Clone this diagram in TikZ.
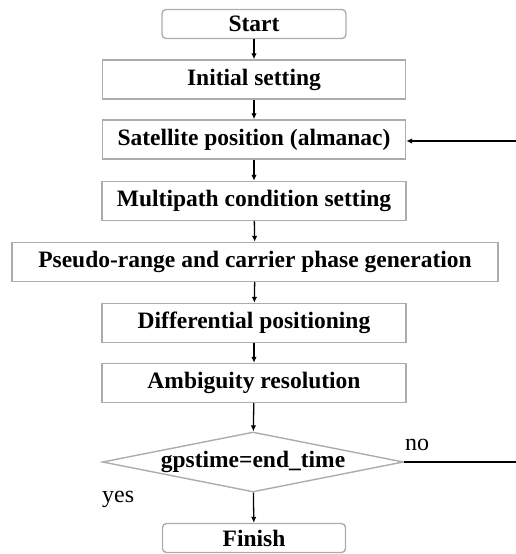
\documentclass[tikz,border=0pt]{standalone}
\usepackage{fontspec}
\setmainfont{Liberation Serif}
\usetikzlibrary{shapes.geometric,arrows.meta}
\tikzset{
  stepbox/.style={draw=gray!65, line width=1.4pt, minimum height=39pt, inner sep=0pt, font=\bfseries\fontsize{23.5}{23.5}\selectfont},
  termbox/.style={stepbox, rounded corners=4pt, minimum height=29pt},
  testbox/.style={draw=gray!65, line width=1.4pt, diamond, aspect=5, minimum width=301pt, minimum height=60pt, inner sep=0pt, font=\bfseries\fontsize{23.5}{23.5}\selectfont},
  flow/.style={-{Latex[length=6pt,width=5.5pt]}, line width=1.3pt},
  lab/.style={font=\fontsize{24}{24}\selectfont, inner sep=0pt},
}
\begin{document}
\begin{tikzpicture}[x=1pt,y=-1pt]
      \useasboundingbox (0,0) rectangle (516,554);
      % main chain of steps, centred on x=254
      \node[termbox, minimum width=184pt] (start) at (254,24) {Start};
      \node[stepbox, minimum width=303pt] (init) at (254,79.5) {Initial setting};
      \node[stepbox, minimum width=303pt] (sat) at (254,139.5) {Satellite position (almanac)};
      \node[stepbox, minimum width=304pt] (multi) at (254,201) {Multipath condition setting};
      \node[stepbox, minimum width=486pt] (pseudo) at (255,262) {Pseudo-range and carrier phase generation};
      \node[stepbox, minimum width=304pt] (diff) at (254,323) {Differential positioning};
      \node[stepbox, minimum width=304pt] (amb) at (254,383) {Ambiguity resolution};
      \node[testbox] (test) at (253,462) {gpstime=end\_time};
      \node[termbox, minimum width=183pt] (finish) at (254,538) {Finish};
      % loop-back ends (cut at the right edge)
      \coordinate (back) at (516,141);
      \coordinate (noend) at (516,462);
      \draw[flow] (start) -- (init);
      \draw[flow] (init) -- (sat);
      \draw[flow] (sat) -- (multi);
      \draw[flow] (multi) -- (pseudo);
      \draw[flow] (pseudo) -- (diff);
      \draw[flow] (diff) -- (amb);
      \draw[flow] (amb) -- (test);
      \draw[flow] (test) -- (finish);
      \draw[flow, line width=2pt] (back) -- (sat.east |- back);
      \draw[line width=2pt] (test) -- (noend);
      \node[lab, anchor=base west] (nolab) at (405,450) {no};
      \node[lab, anchor=base west] (yeslab) at (102,502) {yes};
    \end{tikzpicture}
\end{document}
